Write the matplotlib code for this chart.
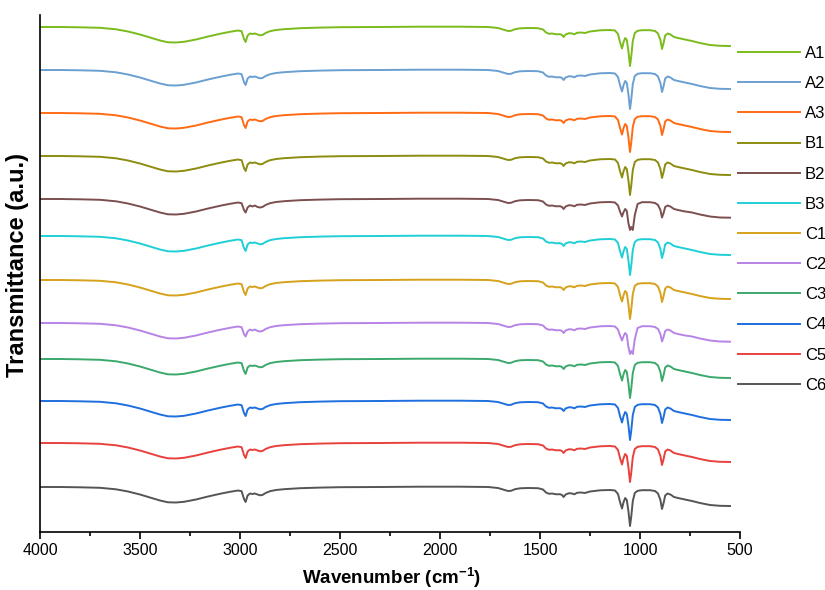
import numpy as np
import matplotlib
matplotlib.use('Agg')
import matplotlib.pyplot as plt

plt.rcParams['font.family'] = ['Liberation Sans', 'DejaVu Sans']
plt.rcParams['mathtext.fontset'] = 'custom'
plt.rcParams['mathtext.rm'] = 'Liberation Sans'
plt.rcParams['mathtext.bf'] = 'Liberation Sans:bold'

# wavenumber grid (cm-1)
wn = [4000, 3900, 3800, 3700, 3620, 3560, 3500, 3450, 3400, 3360, 3320, 3280, 3220, 3160,
      3100, 3050, 3010, 2992, 2980, 2972, 2962, 2950, 2938, 2926, 2912, 2900, 2888, 2872,
      2850, 2820, 2780, 2700, 2600, 2500, 2300, 2100, 1900, 1760, 1710, 1680, 1660, 1645,
      1625, 1600, 1560, 1510, 1485, 1470, 1455, 1440, 1420, 1400, 1390, 1382, 1372, 1355,
      1340, 1328, 1315, 1295, 1275, 1250, 1200, 1150, 1125, 1110, 1100, 1090, 1082, 1074,
      1066, 1058, 1050, 1044, 1036, 1026, 1012, 990, 950, 925, 910, 898, 890, 882, 874,
      862, 848, 830, 810, 780, 740, 700, 650, 600, 550]

# drop below each trace's own baseline (a.u.), single sharp C-O band
depth_single = [0, 0, 0.3, 0.8, 2.3, 4.5, 7.5, 10.5, 13.5, 15.3, 15.5, 14.8, 12.5, 9.5,
                6.8, 4.8, 3.5, 4.2, 12, 15, 8.5, 6.5, 7, 6.5, 7.5, 8.3, 8, 6,
                4.2, 3, 2.2, 1.2, 0.6, 0.2, 0, -0.3, -0.3, 0, 1, 2.8, 4, 3.8,
                2.2, 1.3, 1, 1.2, 2.5, 5.5, 6.8, 6.5, 7.3, 7.2, 8, 10, 7.5, 6.2,
                6.5, 7.3, 5.8, 5.5, 6, 4.5, 3.3, 3, 3.5, 7, 15, 21.5, 15, 11,
                13, 24, 39, 30, 14, 6, 3.8, 3.2, 3.2, 4, 6.5, 13, 22, 16, 8.5,
                6.5, 7.5, 10, 11, 12.3, 14, 16, 18, 18.8, 19]

# broadened / split C-O band (B2, C2)
depth_split = [0, 0, 0.3, 0.8, 2.3, 4.5, 7.5, 10.5, 13.5, 15.3, 15.5, 14.8, 12.5, 9.5,
               6.8, 4.8, 3.5, 4.2, 11, 13.5, 8.5, 6.5, 7.5, 6.5, 8, 8.5, 8, 6,
               4.2, 3, 2.2, 1.2, 0.6, 0.2, 0, -0.3, -0.3, 0, 1, 2.8, 4, 3.8,
               2.2, 1.3, 1, 1.2, 2.5, 5.5, 6.8, 6.5, 7.3, 7.2, 8, 10, 7.5, 6.2,
               6.5, 7.3, 5.8, 5.5, 6, 4.5, 3.3, 3, 3.5, 6.5, 12.5, 17.5, 13, 10,
               12, 24, 31, 28, 31, 16, 5, 3.2, 3.2, 4, 6, 11, 18.5, 14, 8,
               6.5, 7.5, 10, 11, 12.3, 13.5, 15.5, 17.5, 18.5, 18.7]

labels = ['A1', 'A2', 'A3', 'B1', 'B2', 'B3', 'C1', 'C2', 'C3', 'C4', 'C5', 'C6']
offsets = [505, 462, 419, 376, 333, 296, 252, 209, 173, 131, 89, 45]
profiles = ['single', 'single', 'single', 'single', 'split', 'single',
            'single', 'split', 'single', 'single', 'single', 'single']
colors = ['#7bbb1c', '#6b9fd2', '#ff6a13', '#8c8c10', '#7b4f4f', '#1fcfd6',
          '#d6a21c', '#b784e6', '#3ba86c', '#1f6fdf', '#e8413d', '#555555']

fig = plt.figure(figsize=(8.25, 5.9), dpi=100)
ax = fig.add_axes([40/825, 1-532/590, 700/825, 517/590])

x = np.array(wn)
for lab, off, prof, col in zip(labels, offsets, profiles, colors):
    d = np.array(depth_single if prof == 'single' else depth_split)
    ax.plot(x, off - d, color=col, lw=1.4, label=lab)

ax.set_xlim(4000, 500)
ax.set_ylim(0, 517)
ax.set_xticks(np.arange(4000, 499, -500))
ax.set_xticks(np.arange(3750, 500, -500), minor=True)
ax.set_yticks([])
for s in ['top', 'right']:
    ax.spines[s].set_visible(False)
for s in ['left', 'bottom']:
    ax.spines[s].set_linewidth(1.2)
ax.tick_params(axis='x', which='major', length=5, width=1.2, direction='out', pad=3,
               labelsize=11.5)
ax.tick_params(axis='x', which='minor', length=3, width=1.2, direction='out')

ax.set_xlabel(r'Wavenumber (cm$^{\mathbf{-1}}$)', fontsize=13.5, fontweight='bold')
ax.xaxis.set_label_coords(0.503, -0.064)
ax.set_ylabel('Transmittance (a.u.)', fontsize=17, fontweight='bold')
ax.yaxis.set_label_coords(-0.016, 0.516)

fig.legend(loc='upper left', bbox_to_anchor=(738/825, 1-46/590), frameon=False,
           fontsize=12, handlelength=3.7, handletextpad=0.3, labelspacing=0.91,
           borderpad=0, borderaxespad=0)

fig.savefig('out.png', dpi=100)
